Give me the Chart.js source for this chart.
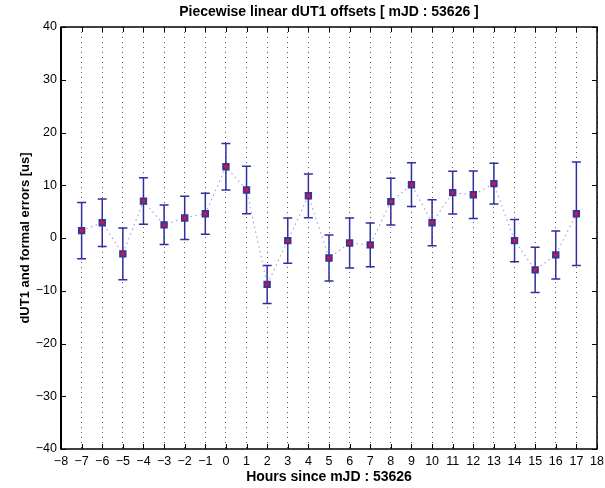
<!DOCTYPE html>
<html>
<head>
<meta charset="utf-8">
<title>dUT1 offsets</title>
<script src="https://cdn.jsdelivr.net/npm/chart.js@4"></script>
<style>
  html, body { margin: 0; padding: 0; background: #fff; }
  #wrap { width: 605px; height: 488px; }
</style>
</head>
<body>
<div id="wrap"><canvas id="dut1" width="605" height="488"></canvas></div>
<script>
// hours since mJD 53626
const hours = [-7, -6, -5, -4, -3, -2, -1, 0, 1, 2, 3, 4, 5, 6, 7, 8, 9, 10, 11, 12, 13, 14, 15, 16, 17];
// dUT1 offsets [us]
const offsets = [1.4, 2.9, -3.0, 7.0, 2.5, 3.8, 4.6, 13.5, 9.1, -8.8, -0.5, 8.0, -3.8, -0.95, -1.3, 6.9, 10.1, 2.9, 8.6, 8.2, 10.3, -0.5, -6.05, -3.2, 4.6];
// formal errors [us]
const errors = [5.35, 4.5, 4.9, 4.4, 3.75, 4.1, 3.9, 4.4, 4.5, 3.6, 4.3, 4.15, 4.35, 4.75, 4.15, 4.45, 4.15, 4.35, 4.05, 4.5, 3.85, 4.0, 4.3, 4.55, 9.8];

const xTicks = { min: -8, max: 18, step: 1 };
const yTicks = { min: -40, max: 40, step: 10 };

const TITLE = 'Piecewise linear dUT1 offsets [ mJD : 53626 ]';
const FONT = '"Liberation Sans", Arial, Helvetica, sans-serif';
const minus = v => String(v).replace('-', '\u2212');

// vertical error bars with caps
const errorBars = {
   id: 'errorBars',
   beforeDatasetsDraw(chart) {
      const { ctx, scales: { x, y } } = chart;
      ctx.save();
      ctx.strokeStyle = '#2f2f9e';
      ctx.lineWidth = 1.5;
      hours.forEach((h, i) => {
         const px = x.getPixelForValue(h);
         const top = y.getPixelForValue(offsets[i] + errors[i]);
         const bot = y.getPixelForValue(offsets[i] - errors[i]);
         ctx.beginPath();
         ctx.moveTo(px, top);
         ctx.lineTo(px, bot);
         ctx.moveTo(px - 4.5, top);
         ctx.lineTo(px + 4.5, top);
         ctx.moveTo(px - 4.5, bot);
         ctx.lineTo(px + 4.5, bot);
         ctx.stroke();
      });
      ctx.restore();
   }
};

// box round the plot, inward tick marks on all four sides, title over the plot
const frame = {
   id: 'frame',
   afterDraw(chart) {
      const { ctx, chartArea: a, scales: { x, y } } = chart;
      ctx.save();
      ctx.strokeStyle = '#000';
      ctx.lineWidth = 1;
      ctx.beginPath();
      x.ticks.forEach(t => {
         const px = Math.round(x.getPixelForValue(t.value)) + 0.5;
         ctx.moveTo(px, a.bottom);
         ctx.lineTo(px, a.bottom - 5);
         ctx.moveTo(px, a.top);
         ctx.lineTo(px, a.top + 5);
      });
      y.ticks.forEach(t => {
         const py = Math.round(y.getPixelForValue(t.value)) + 0.5;
         ctx.moveTo(a.left, py);
         ctx.lineTo(a.left + 5, py);
         ctx.moveTo(a.right, py);
         ctx.lineTo(a.right - 5, py);
      });
      ctx.stroke();
      ctx.lineWidth = 1.5;
      ctx.strokeRect(a.left, a.top, a.right - a.left, a.bottom - a.top);
      ctx.lineWidth = 2;
      ctx.beginPath();
      ctx.moveTo(a.left, a.top);
      ctx.lineTo(a.left, a.bottom);
      ctx.stroke();

      ctx.fillStyle = '#000';
      ctx.font = 'bold 14px ' + FONT;
      ctx.textAlign = 'center';
      ctx.textBaseline = 'middle';
      ctx.fillText(TITLE, (a.left + a.right) / 2, 12);
      ctx.restore();
   }
};

new Chart(document.getElementById('dut1').getContext('2d'), {
   type: 'scatter',
   data: {
      datasets: [
         {
            label: 'dUT1',
            data: hours.map((h, i) => ({ x: h, y: offsets[i] })),
            showLine: true,
            borderColor: '#9d9de0',
            borderWidth: 1.1,
            borderDash: [1.5, 3.5],
            pointStyle: 'rect',
            pointRadius: 3.8,
            pointBorderWidth: 2,
            pointBorderColor: '#35359c',
            pointBackgroundColor: '#e3102c',
         },
      ],
   },
   plugins: [errorBars, frame],
   options: {
      responsive: false,
      animation: false,
      devicePixelRatio: 1,
      layout: { padding: { top: 27, right: 8, left: 0, bottom: 0 } },
      plugins: {
         legend: { display: false },
         tooltip: { enabled: false },
         title: { display: false },
      },
      scales: {
         x: {
            type: 'linear',
            min: xTicks.min,
            max: xTicks.max,
            afterFit: s => { s.height = 39; s.paddingLeft = 0; s.paddingRight = 0; },
            ticks: {
               stepSize: xTicks.step,
               autoSkip: false,
               maxRotation: 0,
               padding: 5,
               color: '#000',
               font: { family: FONT, size: 12.5 },
               callback: v => minus(v),
            },
            grid: {
               color: '#555',
               lineWidth: 1,
               drawTicks: false,
            },
            border: { display: false, dash: [1, 4] },
            title: {
               display: true,
               text: 'Hours since mJD : 53626',
               color: '#000',
               font: { family: FONT, size: 14, weight: 'bold' },
               padding: { top: 0, bottom: 2 },
            },
         },
         y: {
            min: yTicks.min,
            max: yTicks.max,
            afterFit: s => { s.width = 61; s.paddingTop = 0; s.paddingBottom = 0; },
            ticks: {
               stepSize: yTicks.step,
               padding: 4,
               color: '#000',
               font: { family: FONT, size: 12.5 },
               callback: v => minus(v),
            },
            grid: { display: false, drawTicks: false },
            border: { display: false },
            title: {
               display: true,
               text: 'dUT1 and formal errors [us]',
               color: '#000',
               font: { family: FONT, size: 13, weight: 'bold' },
               padding: { top: 18, bottom: 0 },
            },
         },
      },
   },
});
</script>
</body>
</html>
